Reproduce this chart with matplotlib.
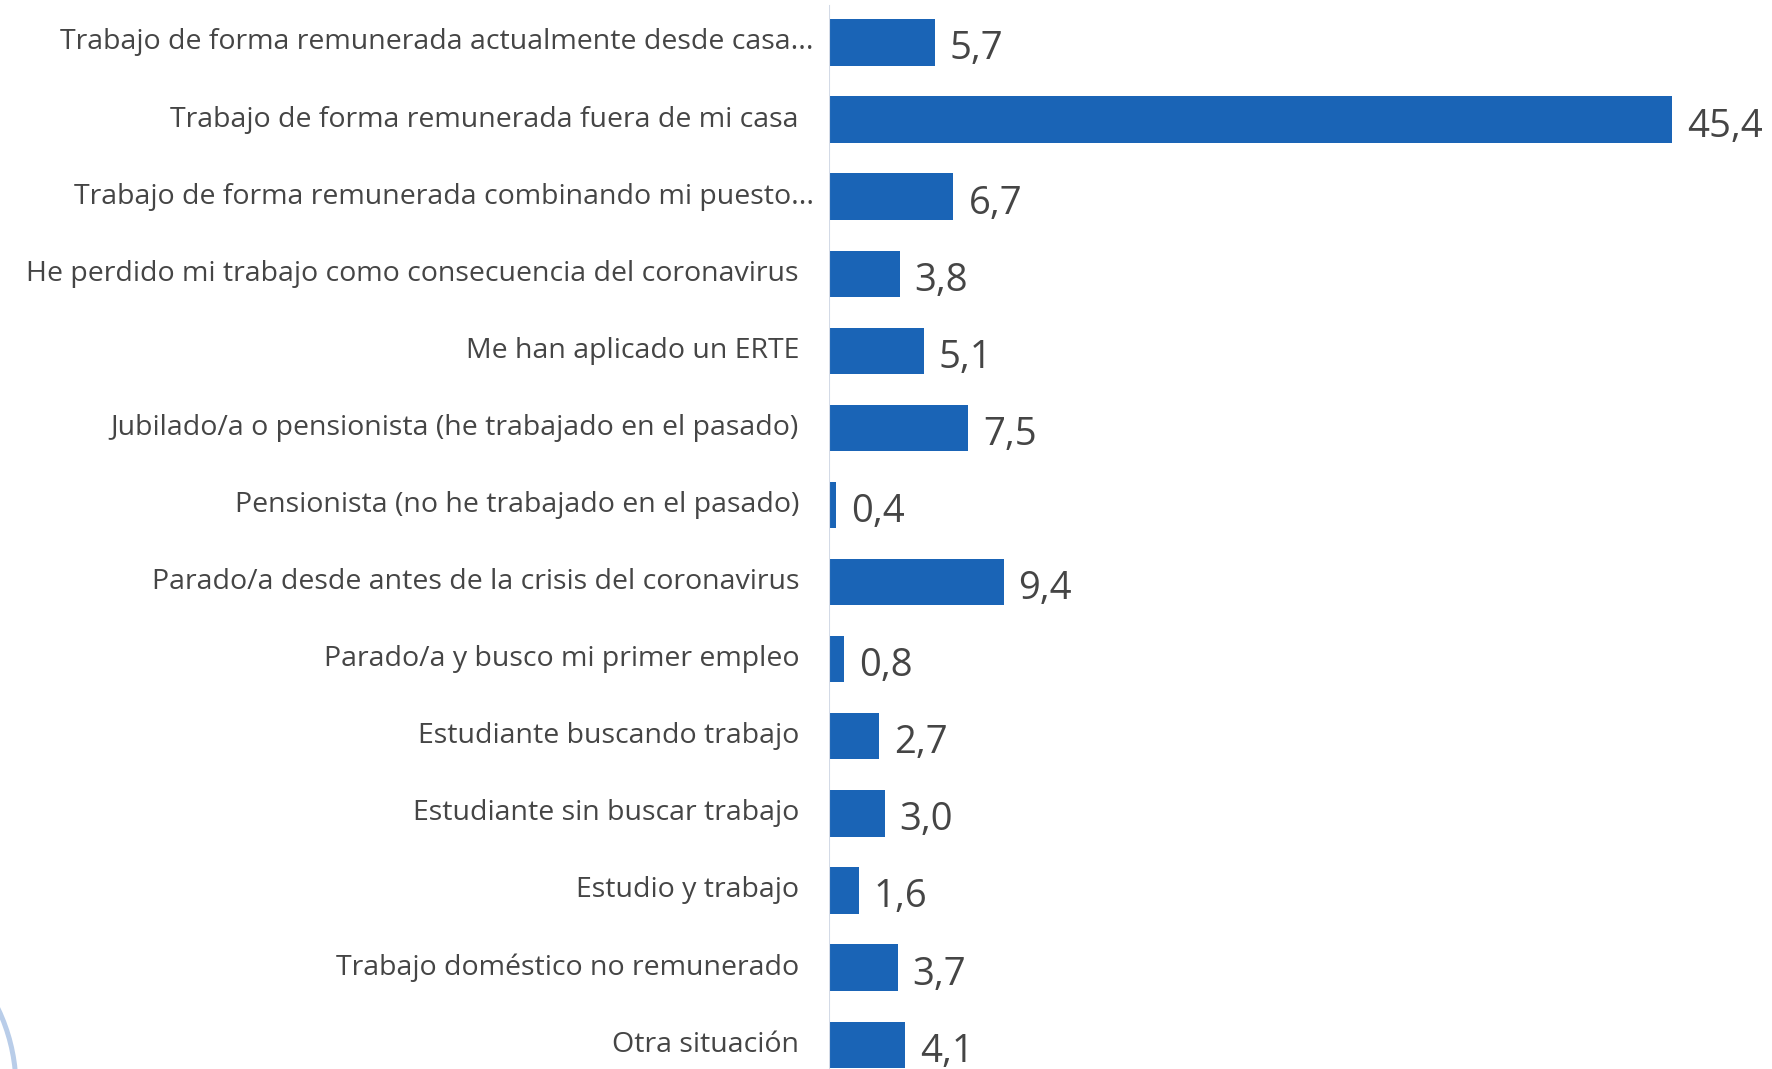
import matplotlib
matplotlib.use("Agg")
import matplotlib.pyplot as plt
from matplotlib.patches import Circle
from matplotlib.transforms import IdentityTransform

categories = [
    "Trabajo de forma remunerada actualmente desde casa...",
    "Trabajo de forma remunerada fuera de mi casa",
    "Trabajo de forma remunerada combinando mi puesto...",
    "He perdido mi trabajo como consecuencia del coronavirus",
    "Me han aplicado un ERTE",
    "Jubilado/a o pensionista (he trabajado en el pasado)",
    "Pensionista (no he trabajado en el pasado)",
    "Parado/a desde antes de la crisis del coronavirus",
    "Parado/a y busco mi primer empleo",
    "Estudiante buscando trabajo",
    "Estudiante sin buscar trabajo",
    "Estudio y trabajo",
    "Trabajo doméstico no remunerado",
    "Otra situación",
]
values = [5.7, 45.4, 6.7, 3.8, 5.1, 7.5, 0.4, 9.4, 0.8, 2.7, 3.0, 1.6, 3.7, 4.1]

W, H = 1772, 1069
DPI = 100
BAR = "#1a64b6"
TXT = "#454545"
FONT = ["Open Sans", "DejaVu Sans"]

fig = plt.figure(figsize=(W / DPI, H / DPI), dpi=DPI)
fig.patch.set_facecolor("white")

x0 = 829
ax = fig.add_axes([x0 / W, 0, (W - x0) / W, 1])
px_per_unit = 843 / 45.4
ax.set_xlim(0, (W - x0) / px_per_unit)
pitch = 77.1
c0 = 42.4
ax.set_ylim((H - c0) / pitch, -c0 / pitch)

ypos = list(range(len(categories)))
ax.barh(ypos, values, height=0.6, color=BAR, zorder=2)
ax.axvline(0, ymin=0, ymax=1 - 6 / H, color="#d3dae6", lw=1.5, zorder=3)

for y, lab, v in zip(ypos, categories, values):
    off = -15 if lab.endswith("...") else -30
    ax.annotate(lab, xy=(0, y), xytext=(off, 0), textcoords="offset pixels",
                ha="right", va="center", fontsize=20.5, color=TXT, family=FONT,
                annotation_clip=False)
    ax.annotate(f"{v:.1f}".replace(".", ","), xy=(v, y), xytext=(15, -7),
                textcoords="offset pixels", ha="left", va="center",
                fontsize=27.5, color=TXT, family=FONT, annotation_clip=False)

ax.axis("off")

# decorative arc at bottom-left (pixel coordinates, origin bottom-left)
circ = Circle((-168, H - 1088), 184, transform=IdentityTransform(),
              fill=False, edgecolor="#b9cde9", lw=3.6)
fig.patches.append(circ)

fig.savefig("out.png", dpi=DPI)
